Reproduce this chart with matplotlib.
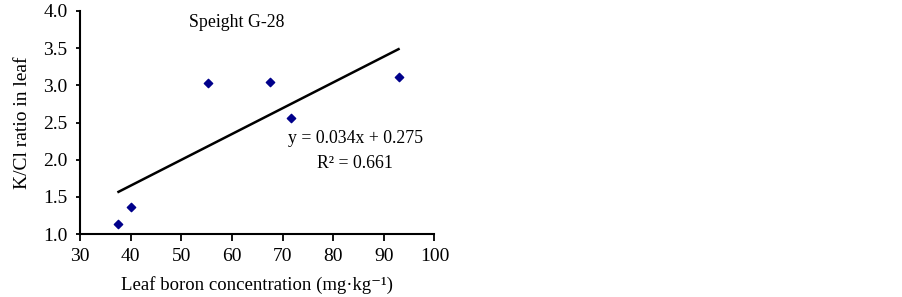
import numpy as np
import matplotlib.pyplot as plt

# leaf boron (mg/kg) vs K/Cl ratio, Speight G-28
boron = [37.6, 40.0, 55.2, 67.6, 71.6, 92.9]
kcl_ratio = [1.14, 1.36, 3.03, 3.04, 2.56, 3.11]

x_ticks = [30, 40, 50, 60, 70, 80, 90, 100]
y_ticks = [1.0, 1.5, 2.0, 2.5, 3.0, 3.5, 4.0]

plt.rcParams['font.family'] = ['Liberation Serif', 'DejaVu Serif']

fig = plt.figure(figsize=(9.02, 2.97), dpi=100)
ax = fig.add_axes([0.0887, 0.212, 0.393, 0.751])

ax.scatter(boron, kcl_ratio, marker="D", s=18, color="#00008B", zorder=3)

# linear trend line over the data range
slope, intercept = np.polyfit(boron, kcl_ratio, 1)
xs = np.array([min(boron), max(boron)])
ax.plot(xs, slope * xs + intercept, color="black", lw=1.8)

ax.text(60.9, 3.85, "Speight G-28", ha="center", va="center", fontsize=12.8)
ax.text(84.4, 2.29, "y = 0.034x + 0.275", ha="center", va="center", fontsize=12.8)
ax.text(84.2, 1.955, "R² = 0.661", ha="center", va="center", fontsize=12.8)

ax.set_xlim(30, 100)
ax.set_ylim(1.0, 4.0)
ax.set_xticks(x_ticks)
ax.set_yticks(y_ticks)
ax.set_yticklabels([f"{v:.1f}" for v in y_ticks])
ax.tick_params(labelsize=14, direction="out", width=1.3, colors="black")
ax.tick_params(axis="x", length=5, pad=5)
ax.tick_params(axis="y", length=3, pad=6)
for side in ["top", "right"]:
    ax.spines[side].set_visible(False)
for side in ["left", "bottom"]:
    ax.spines[side].set_linewidth(1.5)

ax.set_xlabel("Leaf boron concentration (mg·kg⁻¹)", fontsize=13.5, labelpad=8)
ax.set_ylabel("K/Cl ratio in leaf", fontsize=14, labelpad=9)

fig.savefig("out.png", dpi=100)
